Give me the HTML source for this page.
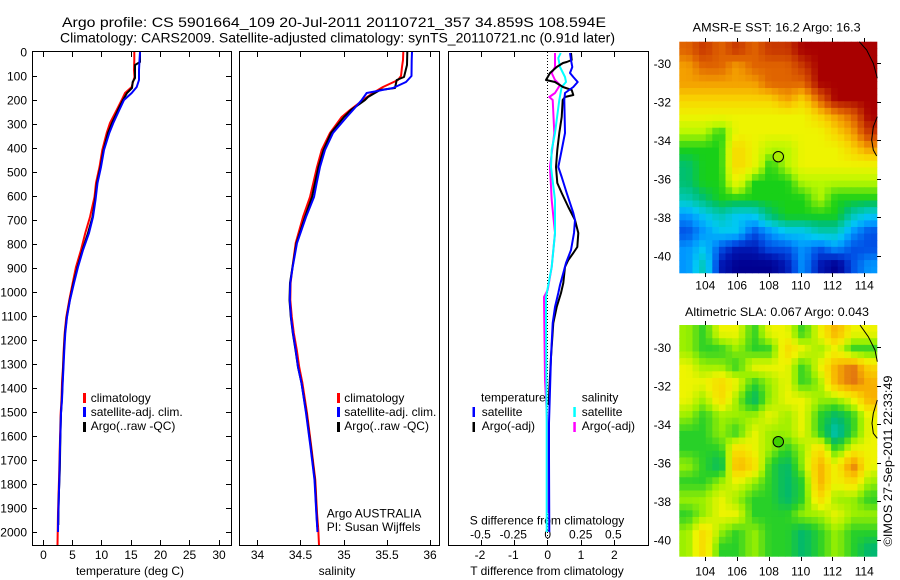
<!DOCTYPE html>
<html>
<head>
<meta charset="utf-8">
<style>
html,body{margin:0;padding:0;background:#fff;}
svg{display:block;}
text{font-family:"Liberation Sans",Arial,sans-serif;fill:#000;}
</style>
</head>
<body>
<svg id="s" width="900" height="580" viewBox="0 0 900 580" xmlns="http://www.w3.org/2000/svg">
<rect x="0" y="0" width="900" height="580" fill="#fff"/>

<!-- Titles -->
<text x="62" y="27" font-size="14" textLength="544" lengthAdjust="spacingAndGlyphs">Argo profile: CS 5901664_109 20-Jul-2011 20110721_357 34.859S 108.594E</text>
<text x="60" y="42.5" font-size="14" textLength="555" lengthAdjust="spacingAndGlyphs">Climatology: CARS2009. Satellite-adjusted climatology: synTS_20110721.nc (0.91d later)</text>

<!-- Maps (cells generated below) -->
<g id="map1"></g>
<g id="map2"></g>

<!-- Panel frames -->
<g fill="none" stroke="#000" stroke-width="1">
<rect x="32.5" y="51.5" width="199" height="494"/>
<rect x="239.5" y="51.5" width="200" height="494"/>
<rect x="448.5" y="51.5" width="200" height="494"/>
<path d="M32 76.5h5M32 100.5h5M32 124.5h5M32 148.5h5M32 172.5h5M32 196.5h5M32 220.5h5M32 244.5h5M32 268.5h5M32 292.5h5M32 316.5h5M32 340.5h5M32 364.5h5M32 388.5h5M32 412.5h5M32 436.5h5M32 460.5h5M32 484.5h5M32 508.5h5M32 532.5h5"/>
<path d="M226 76.5h5M226 100.5h5M226 124.5h5M226 148.5h5M226 172.5h5M226 196.5h5M226 220.5h5M226 244.5h5M226 268.5h5M226 292.5h5M226 316.5h5M226 340.5h5M226 364.5h5M226 388.5h5M226 412.5h5M226 436.5h5M226 460.5h5M226 484.5h5M226 508.5h5M226 532.5h5"/>
<path d="M43.5 52v5M72.5 52v5M101.5 52v5M131.5 52v5M160.5 52v5M189.5 52v5M219.5 52v5M43.5 545v-5M72.5 545v-5M101.5 545v-5M131.5 545v-5M160.5 545v-5M189.5 545v-5M219.5 545v-5"/>
<path d="M257.5 52v5M300.5 52v5M344.5 52v5M387.5 52v5M430.5 52v5M257.5 545v-5M300.5 545v-5M344.5 545v-5M387.5 545v-5M430.5 545v-5"/>
<path d="M481.5 52v5M514.5 52v5M581.5 52v5M614.5 52v5M481.5 545v-5M514.5 545v-5M547.5 545v-5M581.5 545v-5M614.5 545v-5"/>
<path d="M705.5 38v4M737.5 38v4M769.5 38v4M801.5 38v4M832.5 38v4M864.5 38v4M705.5 273v4M737.5 273v4M769.5 273v4M801.5 273v4M832.5 273v4M864.5 273v4M877 63.5h4M877 102.5h4M877 140.5h4M877 179.5h4M877 217.5h4M877 256.5h4"/>
<path d="M705.5 321v4M737.5 321v4M769.5 321v4M801.5 321v4M832.5 321v4M864.5 321v4M705.5 557v4M737.5 557v4M769.5 557v4M801.5 557v4M832.5 557v4M864.5 557v4M877 347.5h4M877 386.5h4M877 424.5h4M877 463.5h4M877 501.5h4M877 540.5h4"/>
</g>

<line x1="547.5" y1="52" x2="547.5" y2="545" stroke="#000" stroke-width="1" stroke-dasharray="1,2"/>

<g font-size="12" text-anchor="end">
<text x="27" y="56.5">0</text>
<text x="27" y="80.5">100</text>
<text x="27" y="104.5">200</text>
<text x="27" y="128.5">300</text>
<text x="27" y="152.5">400</text>
<text x="27" y="176.5">500</text>
<text x="27" y="200.5">600</text>
<text x="27" y="224.5">700</text>
<text x="27" y="248.5">800</text>
<text x="27" y="272.5">900</text>
<text x="27" y="296.5">1000</text>
<text x="27" y="320.5">1100</text>
<text x="27" y="344.5">1200</text>
<text x="27" y="368.5">1300</text>
<text x="27" y="392.5">1400</text>
<text x="27" y="416.5">1500</text>
<text x="27" y="440.5">1600</text>
<text x="27" y="464.5">1700</text>
<text x="27" y="488.5">1800</text>
<text x="27" y="512.5">1900</text>
<text x="27" y="536.5">2000</text>
</g>

<g font-size="12" text-anchor="middle">
<text x="43.5" y="559">0</text>
<text x="72.5" y="559">5</text>
<text x="101.5" y="559">10</text>
<text x="131" y="559">15</text>
<text x="160.5" y="559">20</text>
<text x="189.5" y="559">25</text>
<text x="219" y="559">30</text>
<text x="130" y="575">temperature (deg C)</text>

<text x="257.5" y="559">34</text>
<text x="300.5" y="559">34.5</text>
<text x="344" y="559">35</text>
<text x="387" y="559">35.5</text>
<text x="430" y="559">36</text>
<text x="337" y="575">salinity</text>

<text x="480" y="559">-2</text>
<text x="513.3" y="559">-1</text>
<text x="547.7" y="559">0</text>
<text x="581" y="559">1</text>
<text x="614.3" y="559">2</text>
<text x="547" y="575">T difference from climatology</text>

<text x="480.5" y="538.7">-0.5</text>
<text x="513.3" y="538.7">-0.25</text>
<text x="547.7" y="538.7">0</text>
<text x="580.7" y="538.7">0.25</text>
<text x="613.3" y="538.7">0.5</text>
<text x="547" y="524.3">S difference from climatology</text>
</g>

<g fill="none" stroke-width="2" stroke-linejoin="round">
<polyline stroke="#ff0000" points="134.3,52 134.3,60 134,70 134.5,77 133,82 131.7,87 125,93 121.7,100 116.7,110 110,123 106.7,133 102.3,150 99.5,167 96,183 94.5,197 90,217 85.3,233 81,250 76,267 72.7,283 69.3,300 66.3,317 64.7,333 63.7,350 63,367 62,383 61.5,400 60.7,413 59.8,447 59,480 58,513 57.7,532 57.5,545"/>
<polyline stroke="#000000" points="140,52 140,62 135,65 135,78 132.7,82 132,88 127,93 123,100 118,110 112,123 108,133 103.5,150 100.5,167 97,183 95,200 92.5,217 88,233 82.5,250 77.5,267 73.5,283 69.8,300 66.8,317 65,333 64,350 63.2,367 62.5,383 61.8,400 61,413 60.3,440 59.8,470 59,490 58.5,510 58.3,525"/>
<polyline stroke="#0000ff" points="140,52 139.5,60 139,70 139,80 136.7,87 131.7,93 124,100 119.3,110 113.3,123 109.3,133 104,150 101,167 97.5,183 95.5,200 93,217 89,233 83,250 78,267 74,283 70,300 67,317 65.3,333 64.3,350 63.5,367 62.7,383 62,400 61,413 60,447 59.3,480 58.3,513 58,532"/>
</g>

<g fill="none" stroke-width="2" stroke-linejoin="round">
<polyline stroke="#ff0000" points="403.3,52 403,60 402,67 401,76 398,80 383,87 373,93 363,100 350,110 341.7,117 330,133 321.7,150 317,167 313.3,183 310,197 303,217 295.7,243 292.5,267 290.6,283 290.3,300 291.8,317 293.8,333 296.8,350 299.2,367 302.4,383 307,413 311.3,447 315.3,480 317,513 318.3,530 319,545"/>
<polyline stroke="#000000" points="407.3,52 407,65 404,77 396.7,80 395,88 380,90 368,97 365,100 351,110 344,117 331,133 323.5,150 318.5,167 315,183 312,197 305,217 296.5,243 292.5,267 290,283 289.5,300 290.8,317 292.8,333 295.5,350 298,367 301.5,383 306.3,413 310.8,447 314.8,480 316.5,513 317.3,527"/>
<polyline stroke="#0000ff" points="412,52 411.7,60 411.5,76 406,82 393,88 366.7,93 361.7,100 353,110 346.7,117 333,133 325,150 320,167 316.7,183 314,197 306,217 297,243 292.7,267 290.3,283 289.8,300 291,317 293,333 295.7,350 298,367 301.5,383 306,413 310.5,447 314.5,480 316.3,513 317.5,532"/>
</g>

<g fill="none" stroke-width="2" stroke-linejoin="round">
<polyline stroke="#ff00ff" points="555,53 555,67 551.7,73 555,80 560,85 555,93 549.3,97 552.7,100 554.3,133 550,167 551.7,200 555,233 551.7,267 547.7,290 544,297 544.3,323 545,380 547.3,423 547.5,513"/>
<polyline stroke="#00ffff" points="560.7,53 558.3,58 560,67 565,77 566,82 561.7,87 559.3,100 555,133 551.7,150 551,167 555,200 555,233 551.7,267 546,297 546,323 546.7,423 546.7,532"/>
<polyline stroke="#000000" points="571,53 571.7,60 566.7,62 563,63 556.7,67 550,73 546,80 555,82 563,87 571.7,90 573.3,95 565,97 562.7,100 561.7,117 559.3,133 557.3,150 556,167 557.3,183 561.7,193 568.3,207 575,220 578.3,233 577.3,247 573.3,253 568.3,260 565,267 563.3,283 561,293 556.7,307 553.3,323 551,357 549.3,390 548.7,405"/>
<polyline stroke="#0000ff" points="570,53 571,60 572.3,67 570,73 573.3,77 577.7,82 573.3,87 565,93 564.3,100 565,133 561.7,150 558.3,167 561.7,177 566.7,193 573.3,213 575,220 574,233 571,250 566,263 563.3,273 560,285 558.3,293 555,307 552.7,323 551,357 550,390 549,423 549,457 549.3,532"/>
</g>

<g font-size="12">
<rect x="83" y="393" width="3" height="10" fill="#ff0000"/>
<rect x="83" y="407" width="3" height="10" fill="#0000ff"/>
<rect x="83" y="422" width="3" height="10" fill="#000"/>
<text x="90.7" y="402">climatology</text>
<text x="90.7" y="416">satellite-adj. clim.</text>
<text x="90.7" y="430">Argo(..raw -QC)</text>

<rect x="337" y="393" width="3" height="10" fill="#ff0000"/>
<rect x="337" y="407" width="3" height="10" fill="#0000ff"/>
<rect x="337" y="422" width="3" height="10" fill="#000"/>
<text x="344.3" y="402">climatology</text>
<text x="344.3" y="416">satellite-adj. clim.</text>
<text x="344.3" y="430">Argo(..raw -QC)</text>

<text x="326.7" y="517.3">Argo AUSTRALIA</text>
<text x="326.7" y="531">PI: Susan Wijffels</text>

<text x="481" y="401.7">temperature</text>
<rect x="472.5" y="407" width="2.5" height="10" fill="#0000ff"/>
<text x="481.7" y="416">satellite</text>
<rect x="472.5" y="422" width="2.5" height="10" fill="#000"/>
<text x="481.7" y="430">Argo(-adj)</text>

<text x="581.7" y="401.7">salinity</text>
<rect x="573.3" y="407" width="2.5" height="10" fill="#00ffff"/>
<text x="581.7" y="416">satellite</text>
<rect x="573.3" y="422" width="2.5" height="10" fill="#ff00ff"/>
<text x="581.7" y="430">Argo(-adj)</text>
</g>

<g font-size="12">
<text x="776.7" y="31.7" text-anchor="middle" textLength="168" lengthAdjust="spacingAndGlyphs">AMSR-E SST: 16.2 Argo: 16.3</text>
<text x="777" y="316" text-anchor="middle" textLength="184" lengthAdjust="spacingAndGlyphs">Altimetric SLA: 0.067 Argo: 0.043</text>
<g text-anchor="end">
<text x="671" y="68">-30</text>
<text x="671" y="106.5">-32</text>
<text x="671" y="145">-34</text>
<text x="671" y="183.5">-36</text>
<text x="671" y="222">-38</text>
<text x="671" y="260.5">-40</text>
<text x="671" y="352">-30</text>
<text x="671" y="390.5">-32</text>
<text x="671" y="429">-34</text>
<text x="671" y="467.5">-36</text>
<text x="671" y="506">-38</text>
<text x="671" y="544.5">-40</text>
</g>
<g text-anchor="middle">
<text x="705.3" y="289.5">104</text>
<text x="737.1" y="289.5">106</text>
<text x="768.9" y="289.5">108</text>
<text x="800.7" y="289.5">110</text>
<text x="832.5" y="289.5">112</text>
<text x="864.3" y="289.5">114</text>
<text x="705.3" y="575.7">104</text>
<text x="737.1" y="575.7">106</text>
<text x="768.9" y="575.7">108</text>
<text x="800.7" y="575.7">110</text>
<text x="832.5" y="575.7">112</text>
<text x="864.3" y="575.7">114</text>
</g>
<text transform="translate(892,461) rotate(-90)" text-anchor="middle" textLength="171" lengthAdjust="spacingAndGlyphs">©IMOS 27-Sep-2011 22:33:49</text>
</g>

<g id="coast" fill="none" stroke="#000" stroke-width="1">
<polyline points="859.3,41.7 866.7,50 873.3,63.3 877.3,78.3"/>
<polyline points="877.3,116.7 873.3,126.7 871.7,140 873.3,150 876.7,156"/>
<polyline points="860,325 868.3,336.7 875,350 877.3,361.7"/>
<polyline points="877.3,400 873.3,413.3 872,423.3 873.3,433.3 877.3,438.3"/>
</g>
<circle cx="778.3" cy="156.7" r="5.2" fill="#a8ec00" stroke="#000" stroke-width="1"/>
<circle cx="778.3" cy="441.7" r="5.2" fill="#40d000" stroke="#000" stroke-width="1"/>
</svg>

<script>
(function(){
var NS="http://www.w3.org/2000/svg";
var ord1="NDBbCTgGLYyoOrR";
var col1=['#000090','#0018b4','#0050e6','#0096ff','#00c8f4','#00c8b4','#00c070','#18d018','#b8f800','#eef400','#f8d400','#f4a000','#e06400','#c83800','#a80000'];
var ord2="TgGLYyoO";
var col2=['#00c8c0','#00b870','#28d028','#9cf000','#eef400','#f8d800','#f8b000','#e07010'];
var sst=[
"OrOrOrrRRRRR",
"oOOoOOOrRRRR",
"oooooOOORRRR",
"yyyyyyoyORRR",
"YYYYYYYYyoOR",
"LLGYYYYYYyor",
"GGGyYLLYYYyo",
"gGGyYGLYYYYY",
"gGGYGGGLLLLL",
"TgGGGGGGLGGG",
"bCTCCgGGGGTC",
"BbCCBbCCTTbB",
"bCBDDBBbBbBB",
"bTDNNNDbDNBb"];
var sla=[
"LGYYGYYGYoYY",
"LGGLGGyYLYGG",
"YLLGYYYGYoOy",
"YYyYGLYGLoOo",
"YLyLgLYYLLYo",
"LGLLLYLYGgGY",
"GGLGYLLYGTGY",
"GGGyYLGLyGYY",
"LGgoyGgLoYOY",
"GGLYLGgGoYyL",
"LLYLGGgGyLLG",
"GLYYGGGLLYLL",
"LyLGLGGgGLGG",
"LyGGLGGgGLGg"];
function hex(c){return [parseInt(c.substr(1,2),16),parseInt(c.substr(3,2),16),parseInt(c.substr(5,2),16)];}
function cmap(v,cols){
  if(v<=0)return cols[0];
  if(v>=cols.length-1)return cols[cols.length-1];
  var i=Math.floor(v),f=v-i,a=hex(cols[i]),b=hex(cols[i+1]);
  var r=Math.round(a[0]+(b[0]-a[0])*f),g=Math.round(a[1]+(b[1]-a[1])*f),bl=Math.round(a[2]+(b[2]-a[2])*f);
  return 'rgb('+r+','+g+','+bl+')';
}
function draw(id,rows,ord,cols,x0,y0,w,h,fc,fr){
  var g=document.getElementById(id);
  var nr=rows.length,nc=rows[0].length;
  var V=[];
  for(var r=0;r<nr;r++){V[r]=[];for(var c=0;c<nc;c++){var k=ord.indexOf(rows[r].charAt(c));V[r][c]=k<0?0:k;}}
  var cw=w/fc,ch=h/fr;
  for(var j=0;j<fr;j++){
    for(var i=0;i<fc;i++){
      var u=((i+0.5)/fc)*nc-0.5,v=((j+0.5)/fr)*nr-0.5;
      if(u<0)u=0;if(u>nc-1)u=nc-1;if(v<0)v=0;if(v>nr-1)v=nr-1;
      var i0=Math.floor(u),j0=Math.floor(v),i1=Math.min(i0+1,nc-1),j1=Math.min(j0+1,nr-1);
      var fu=u-i0,fv=v-j0;
      var val=V[j0][i0]*(1-fu)*(1-fv)+V[j0][i1]*fu*(1-fv)+V[j1][i0]*(1-fu)*fv+V[j1][i1]*fu*fv;
      var e=document.createElementNS(NS,'rect');
      e.setAttribute('x',(x0+i*cw).toFixed(2));
      e.setAttribute('y',(y0+j*ch).toFixed(2));
      e.setAttribute('width',(cw+(i<fc-1?0.5:0)).toFixed(2));
      e.setAttribute('height',(ch+(j<fr-1?0.5:0)).toFixed(2));
      e.setAttribute('fill',cmap(val,cols));
      g.appendChild(e);
    }
  }
}
draw('map1',sst,ord1,col1,679.3,41.7,198,231.6,30,35);
draw('map2',sla,ord2,col2,679.3,325,198,231.7,30,35);
})();
</script>
</body>
</html>
